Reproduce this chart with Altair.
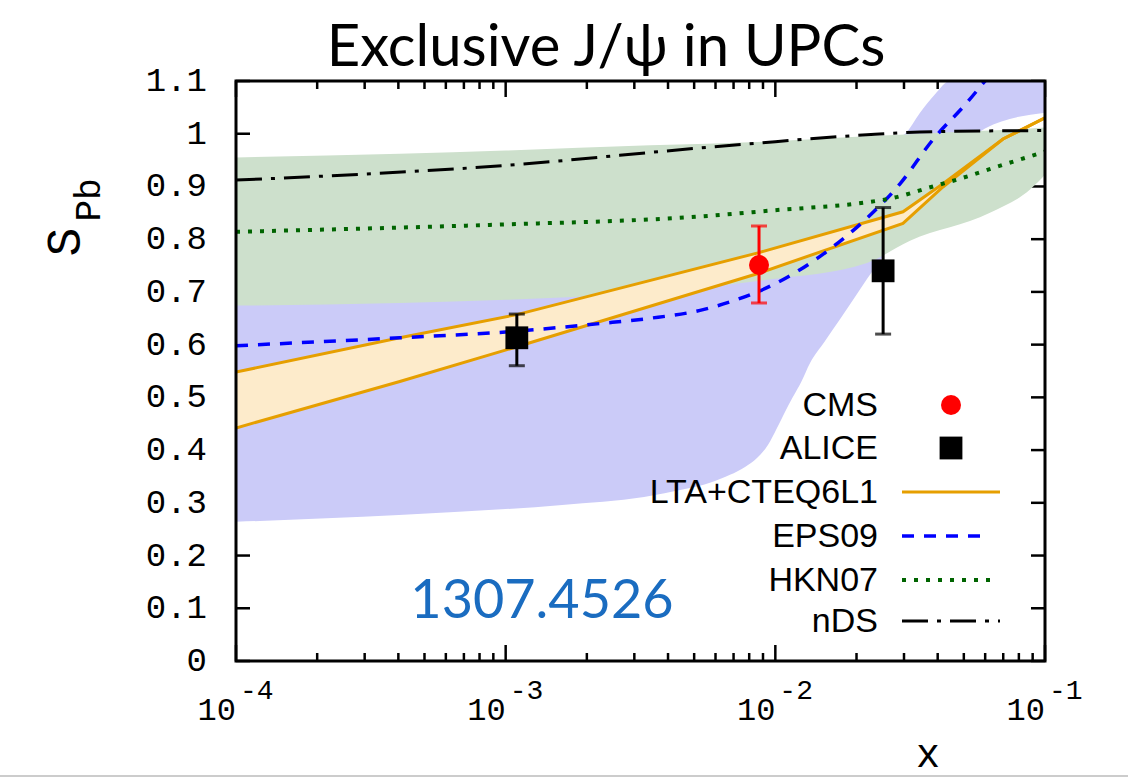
import altair as alt
import pandas as pd

# ---------------- data ----------------
y_ticks = [0.0, 0.1, 0.2, 0.3, 0.4, 0.5, 0.6, 0.7, 0.8, 0.9, 1.0, 1.1]
y_tick_labels = ["0", "0.1", "0.2", "0.3", "0.4", "0.5", "0.6", "0.7", "0.8", "0.9", "1", "1.1"]
x_major = [1e-4, 1e-3, 1e-2, 1e-1]
x_major_exp = ["-4", "-3", "-2", "-1"]
x_minor = [2e-4, 3e-4, 4e-4, 5e-4, 6e-4, 7e-4, 8e-4, 9e-4,
           2e-3, 3e-3, 4e-3, 5e-3, 6e-3, 7e-3, 8e-3, 9e-3,
           2e-2, 3e-2, 4e-2, 5e-2, 6e-2, 7e-2, 8e-2, 9e-2]

# EPS09 uncertainty band
eps_band_x = [1e-4, 4.02e-4, 1.62e-3, 3.26e-3, 4.62e-3, 5.72e-3, 6.79e-3, 7.72e-3, 8.55e-3, 9.4e-3,
              1.01e-2, 1.08e-2, 1.16e-2, 1.25e-2, 1.345e-2, 1.52e-2, 1.737e-2, 1.96e-2,
              2.19e-2, 2.45e-2, 3.026e-2, 3.44e-2, 3.91e-2, 4.444e-2, 5.991e-2, 0.1]
eps_band_lo = [0.264, 0.277, 0.296, 0.311, 0.326, 0.338, 0.353, 0.368, 0.385, 0.410,
               0.440, 0.470, 0.500, 0.530, 0.565, 0.605, 0.648, 0.688,
               0.725, 0.76, 0.83, 0.88, 0.92, 0.95, 1.01, 1.04]
eps_band_hi = [0.90, 0.90, 0.91, 0.92, 0.92, 0.92, 0.93, 0.93, 0.94, 0.94,
               0.95, 0.95, 0.95, 0.95, 0.96, 0.96, 0.97, 0.97,
               0.98, 0.98, 1.0, 1.04, 1.075, 1.1, 1.1, 1.1]

# HKN07 uncertainty band
hkn_band_x = [1e-4, 4.05e-4, 1e-3, 3.43e-3, 9.31e-3, 2.188e-2, 3.158e-2, 6.25e-2, 8.8e-2, 0.1]
hkn_band_lo = [0.674, 0.679, 0.685, 0.70, 0.723, 0.755, 0.797, 0.85, 0.894, 0.922]
hkn_band_hi = [0.955, 0.962, 0.968, 0.978, 0.985, 0.995, 0.999, 1.006, 1.01, 1.012]

# LTA + CTEQ6L1 band
lta_x = [1e-4, 4.05e-4, 1.1e-3, 8.62e-3, 2.974e-2, 4.184e-2, 6.987e-2, 0.1]
lta_hi = [0.548, 0.613, 0.657, 0.774, 0.852, 0.905, 0.99, 1.03]
lta_lo = [0.442, 0.530, 0.596, 0.735, 0.830, 0.899, 0.99, 1.03]

# EPS09 central
eps_x = [1e-4, 4.05e-4, 1e-3, 2.238e-3, 3.43e-3, 5.26e-3, 6.97e-3, 9.31e-3, 1.234e-2,
         1.63e-2, 2.188e-2, 2.899e-2, 3.843e-2, 5.137e-2, 5.991e-2, 7e-2]
eps_y = [0.598, 0.613, 0.624, 0.640, 0.650, 0.665, 0.683, 0.708, 0.742,
         0.785, 0.840, 0.905, 0.989, 1.059, 1.10, 1.14]

# HKN07 central
hkn_x = [1e-4, 4.05e-4, 1e-3, 5.26e-3, 1e-2, 2.188e-2, 2.662e-2, 3.843e-2, 4.716e-2, 6.987e-2, 0.1]
hkn_y = [0.814, 0.822, 0.828, 0.843, 0.855, 0.870, 0.877, 0.900, 0.913, 0.941, 0.966]

# nDS central
nds_x = [1e-4, 1e-3, 5.26e-3, 1e-2, 2.188e-2, 3.843e-2, 0.1]
nds_y = [0.912, 0.940, 0.973, 0.985, 0.998, 1.004, 1.006]

# Data points
cms_x = [8.7e-3]
cms_y = [0.751]
cms_lo = [0.679]
cms_hi = [0.825]

alice_x = [1.1e-3, 2.51e-2]
alice_y = [0.613, 0.740]
alice_lo = [0.560, 0.620]
alice_hi = [0.658, 0.860]

legend_labels = ["CMS", "ALICE", "LTA+CTEQ6L1", "EPS09", "HKN07", "nDS"]

# ---------------- layout ----------------
W, H = 809, 580
PAD_L, PAD_T = 236, 81

xs = alt.Scale(type="log", domain=[1e-4, 0.1], nice=False)
ys = alt.Scale(domain=[0, 1.1], nice=False, zero=False)


def X(f):
    return alt.X(f, type="quantitative", scale=xs, axis=None)


def Y(f):
    return alt.Y(f, type="quantitative", scale=ys, axis=None)


one = pd.DataFrame({"a": [0]})
yt = pd.DataFrame({"v": y_ticks, "lab": y_tick_labels})
xmaj = pd.DataFrame({"v": x_major, "e": x_major_exp})
xmin = pd.DataFrame({"v": x_minor})

layers = []

# ticks (under bands)
layers.append(alt.Chart(yt).mark_rule(color="black", strokeWidth=2.5).encode(
    y=Y("v"), x=alt.value(0), x2=alt.value(14)))
layers.append(alt.Chart(yt).mark_rule(color="black", strokeWidth=2.5).encode(
    y=Y("v"), x=alt.value(W - 14), x2=alt.value(W)))
layers.append(alt.Chart(xmaj).mark_rule(color="black", strokeWidth=2.5).encode(
    x=X("v"), y=alt.value(H), y2=alt.value(H - 16)))
layers.append(alt.Chart(xmaj).mark_rule(color="black", strokeWidth=2.5).encode(
    x=X("v"), y=alt.value(0), y2=alt.value(16)))
layers.append(alt.Chart(xmin).mark_rule(color="black", strokeWidth=2.5).encode(
    x=X("v"), y=alt.value(H), y2=alt.value(H - 8)))
layers.append(alt.Chart(xmin).mark_rule(color="black", strokeWidth=2.5).encode(
    x=X("v"), y=alt.value(0), y2=alt.value(8)))

# bands
eb = pd.DataFrame({"x": eps_band_x, "lo": eps_band_lo, "hi": eps_band_hi})
layers.append(alt.Chart(eb).mark_area(color="#cbcbf8", opacity=1, clip=True, interpolate="monotone").encode(
    x=X("x"), y=Y("lo"), y2="hi"))
hb = pd.DataFrame({"x": hkn_band_x, "lo": hkn_band_lo, "hi": hkn_band_hi})
layers.append(alt.Chart(hb).mark_area(color="#cde0cc", opacity=1, clip=True, interpolate="monotone").encode(
    x=X("x"), y=Y("lo"), y2="hi"))
lb = pd.DataFrame({"x": lta_x, "lo": lta_lo, "hi": lta_hi})
layers.append(alt.Chart(lb).mark_area(color="#fdebcb", opacity=1, clip=True).encode(
    x=X("x"), y=Y("lo"), y2="hi"))

ORANGE = "#e69f00"
layers.append(alt.Chart(lb).mark_line(color=ORANGE, strokeWidth=3, clip=True).encode(
    x=X("x"), y=Y("hi")))
layers.append(alt.Chart(lb).mark_line(color=ORANGE, strokeWidth=3, clip=True).encode(
    x=X("x"), y=Y("lo")))

# central curves
EPS_DASH = [12, 10]
HKN_DASH = [4, 8]
NDS_DASH = [26, 9, 4, 9]
layers.append(alt.Chart(pd.DataFrame({"x": eps_x, "y": eps_y})).mark_line(
    color="#0000ff", strokeWidth=3.5, strokeDash=EPS_DASH, clip=True, interpolate="monotone").encode(
    x=X("x"), y=Y("y")))
layers.append(alt.Chart(pd.DataFrame({"x": hkn_x, "y": hkn_y})).mark_line(
    color="#006400", strokeWidth=4, strokeDash=HKN_DASH, clip=True, interpolate="monotone").encode(
    x=X("x"), y=Y("y")))
layers.append(alt.Chart(pd.DataFrame({"x": nds_x, "y": nds_y})).mark_line(
    color="black", strokeWidth=3, strokeDash=NDS_DASH, clip=True, interpolate="monotone").encode(
    x=X("x"), y=Y("y")))

# data points with error bars
cms = pd.DataFrame({"x": cms_x, "y": cms_y, "lo": cms_lo, "hi": cms_hi})
alice = pd.DataFrame({"x": alice_x, "y": alice_y, "lo": alice_lo, "hi": alice_hi})
for df, col in ((cms, "#ff0000"), (alice, "black")):
    layers.append(alt.Chart(df).mark_rule(color=col, strokeWidth=3).encode(
        x=X("x"), y=Y("lo"), y2="hi"))
    layers.append(alt.Chart(df).mark_tick(color=col, orient="horizontal", size=16, thickness=3).encode(
        x=X("x"), y=Y("lo")))
    layers.append(alt.Chart(df).mark_tick(color=col, orient="horizontal", size=16, thickness=3).encode(
        x=X("x"), y=Y("hi")))
layers.append(alt.Chart(cms).mark_circle(color="#ff0000", size=400, opacity=1).encode(
    x=X("x"), y=Y("y")))
layers.append(alt.Chart(alice).mark_square(color="black", size=520, opacity=1).encode(
    x=X("x"), y=Y("y")))

# frame
layers.append(alt.Chart(one).mark_rect(fillOpacity=0, stroke="black", strokeWidth=3).encode(
    x=alt.value(0), x2=alt.value(W), y=alt.value(0), y2=alt.value(H)))

# y tick labels
layers.append(alt.Chart(yt).mark_text(font="Liberation Mono", fontSize=34, align="right",
                                      baseline="middle", color="black").encode(
    y=Y("v"), x=alt.value(-29), text="lab:N"))

# x tick labels with superscript exponents
layers.append(alt.Chart(xmaj).mark_text(font="Liberation Mono", fontSize=32, align="right",
                                        baseline="alphabetic", color="black").encode(
    x=X("v"), y=alt.value(639), text=alt.value("10")))
layers.append(alt.Chart(xmaj).mark_text(font="Liberation Mono", fontSize=28, align="left",
                                        baseline="alphabetic", dx=4, color="black").encode(
    x=X("v"), y=alt.value(618), text="e:N"))

# axis titles
layers.append(alt.Chart(one).mark_text(font="Liberation Mono", fontSize=48, angle=270,
                                       align="center", baseline="middle", color="black").encode(
    x=alt.value(-170), y=alt.value(161), text=alt.value("S")))
layers.append(alt.Chart(one).mark_text(font="Liberation Mono", fontSize=36, angle=270,
                                       align="center", baseline="middle", color="black").encode(
    x=alt.value(-147), y=alt.value(119), text=alt.value("Pb")))
layers.append(alt.Chart(one).mark_text(font="Liberation Mono", fontSize=40, align="center",
                                       baseline="alphabetic", color="black").encode(
    x=alt.value(692), y=alt.value(686), text=alt.value("x")))
layers.append(alt.Chart(one).mark_rule(color="#cccccc", strokeWidth=2).encode(
    x=alt.value(-PAD_L), x2=alt.value(1128 - PAD_L), y=alt.value(695)))

# title and annotation
layers.append(alt.Chart(one).mark_text(font="Lato", fontSize=58, align="center",
                                       baseline="alphabetic", color="black").encode(
    x=alt.value(370), y=alt.value(-15), text=alt.value("Exclusive J/ψ in UPCs")))
layers.append(alt.Chart(one).mark_text(font="Lato", fontSize=54, align="center",
                                       baseline="alphabetic", color="#1a6cc0").encode(
    x=alt.value(306), y=alt.value(537), text=alt.value("1307.4526")))

# legend
row_y = [324, 367, 411, 455, 499, 540]
for lab, ry in zip(legend_labels, row_y):
    layers.append(alt.Chart(one).mark_text(font="Liberation Sans", fontSize=34, align="right",
                                           baseline="middle", color="black").encode(
        x=alt.value(642), y=alt.value(ry + 1), text=alt.value(lab)))
layers.append(alt.Chart(one).mark_circle(color="#ff0000", size=400, opacity=1).encode(
    x=alt.value(715), y=alt.value(row_y[0])))
layers.append(alt.Chart(one).mark_square(color="black", size=520, opacity=1).encode(
    x=alt.value(715), y=alt.value(row_y[1])))
layers.append(alt.Chart(one).mark_rule(color=ORANGE, strokeWidth=3).encode(
    x=alt.value(666), x2=alt.value(764), y=alt.value(row_y[2])))
layers.append(alt.Chart(one).mark_rule(color="#0000ff", strokeWidth=3.5, strokeDash=EPS_DASH).encode(
    x=alt.value(666), x2=alt.value(752), y=alt.value(row_y[3])))
layers.append(alt.Chart(one).mark_rule(color="#006400", strokeWidth=4, strokeDash=HKN_DASH).encode(
    x=alt.value(666), x2=alt.value(758), y=alt.value(row_y[4])))
layers.append(alt.Chart(one).mark_rule(color="black", strokeWidth=3, strokeDash=NDS_DASH).encode(
    x=alt.value(666), x2=alt.value(764), y=alt.value(row_y[5])))

chart = alt.layer(*layers).properties(
    width=W, height=H,
    padding={"left": PAD_L, "top": PAD_T, "right": 1128 - PAD_L - W, "bottom": 778 - PAD_T - H},
    autosize=alt.AutoSizeParams(type="none"),
    background="white",
).configure_view(stroke=None)

chart.save("out.html", embed_options={"renderer": "svg", "actions": False})
